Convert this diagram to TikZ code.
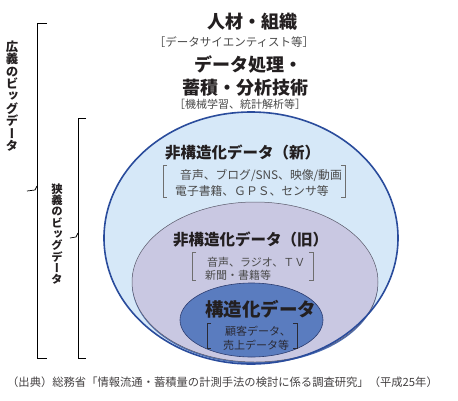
\documentclass[tikz,border=0pt]{standalone}
\usepackage{fontspec}
\usepackage{graphicx}
\setmainfont{Noto Sans CJK JP}
\newfontfamily\vfont[RawFeature=+vert]{Noto Sans CJK JP}
\definecolor{txt}{HTML}{231F20}
\definecolor{subtxt}{HTML}{4A4A4A}
\definecolor{innertxt}{HTML}{2A2A35}
\definecolor{outerfill}{HTML}{D6E8F8}
\definecolor{outerline}{HTML}{2A4C9C}
\definecolor{midfill}{HTML}{C9C8E2}
\definecolor{midline}{HTML}{5A5A6A}
\definecolor{innerfill}{HTML}{5A7CBF}
\definecolor{innerline}{HTML}{2D3D70}
\definecolor{shadowblue}{HTML}{4A6DB4}
\tikzset{
  head/.style={text=txt,font=\fontsize{#1}{#1}\selectfont\bfseries,inner sep=0pt},
  sub/.style={text=subtxt,font=\fontsize{#1}{#1}\selectfont,inner sep=0pt},
  vlabel/.style={text=txt,align=center,inner sep=0pt,font=\fontsize{#1}{#1}\selectfont\vfont\bfseries},
  brace/.style={draw=black,line width=0.7pt},
  sqbr/.style={draw=subtxt!80,line width=0.8pt},
}
\begin{document}
\begin{tikzpicture}[x=1pt,y=-1pt]
\useasboundingbox (0,0) rectangle (458,400);
\fill[white] (0,0) rectangle (458,400);
% ellipses
\fill[outerfill] (251,238) ellipse [x radius=147, y radius=126];
\fill[shadowblue] (255,283.5) ellipse [x radius=123, y radius=80];
\draw[midline,line width=0.5pt,fill=midfill] (255,282) ellipse [x radius=123, y radius=80];
\draw[outerline,line width=1.6pt] (251,238) ellipse [x radius=147, y radius=126];
\draw[innerline,line width=0.6pt,fill=innerfill] (251.5,320) ellipse [x radius=71.5, y radius=37];
% left braces
\coordinate (bA1) at (47,23);
\coordinate (bA2) at (47,358);
\coordinate (bAm) at (27,191);
\draw[brace] (bA1) -- (37,23) -- (37,358) -- (bA2);
\draw[brace] (37,186) -- (35,190) -- (bAm);
\coordinate (bB1) at (86,118);
\coordinate (bB2) at (86,358);
\coordinate (bBm) at (70,238);
\draw[brace] (bB1) -- (78,118) -- (78,358) -- (bB2);
\draw[brace] (78,233) -- (76,237) -- (bBm);
\node[vlabel=12.4] (lblA) at (12,96) {広\\義\\の\\ビ\\ッ\\グ\\デ\\ー\\タ};
\node[vlabel=11.3] (lblB) at (57,234) {狭\\義\\の\\ビ\\ッ\\グ\\デ\\ー\\タ};
% top texts
\node[head=18] (t1) at (252,22) {人材・組織};
\node[sub=11.5] (t1s) at (234,42) {［データサイエンティスト等］};
\node[head=18] (t2) at (248,64.5) {データ処理・};
\node[head=18] (t3) at (245,88) {蓄積・分析技術};
\node[sub=11] (t3s) at (240,104.5) {［機械学習、統計解析等］};
% unstructured new
\node[head=15.5,anchor=west] (n1) at (165,152.5) {非構造化データ（新）};
\node[sub=11.8,anchor=west] (n1a) at (180,175) {音声、ブログ/SNS、映像/動画};
\node[sub=11.8,anchor=west] (n1b) at (175,190.5) {電子書籍、ＧＰＳ、センサ等};
\draw[sqbr] (167,165) -- (163,165) -- (163,197) -- (167,197);
\draw[sqbr] (341,165) -- (345,165) -- (345,197) -- (341,197);
% unstructured old
\node[head=15.5,anchor=west] (n2) at (173,240) {非構造化データ（旧）};
\node[sub=11,anchor=west] (n2a) at (207,262) {音声、ラジオ、ＴＶ};
\node[sub=11,anchor=west] (n2b) at (205,275.5) {新聞・書籍等};
\draw[sqbr] (196,252) -- (192,252) -- (192,280) -- (196,280);
\draw[sqbr] (309,252) -- (313,252) -- (313,280) -- (309,280);
% structured
\node[head=18.5,anchor=west] (n3) at (205,309) {構造化データ};
\node[sub=11,anchor=west,text=innertxt] (n3a) at (225,331.5) {顧客データ、};
\node[sub=11,anchor=west,text=innertxt] (n3b) at (223,345) {売上データ等};
\draw[sqbr,draw=innertxt] (211,323) -- (207,323) -- (207,348) -- (211,348);
\draw[sqbr,draw=innertxt] (293,323) -- (297,323) -- (297,348) -- (293,348);
% caption
\node[sub=11.3,anchor=west,text=txt!85] (cap) at (7,382) {（出典）総務省「情報流通・蓄積量の計測手法の検討に係る調査研究」（平成25年）};
\end{tikzpicture}
\end{document}
